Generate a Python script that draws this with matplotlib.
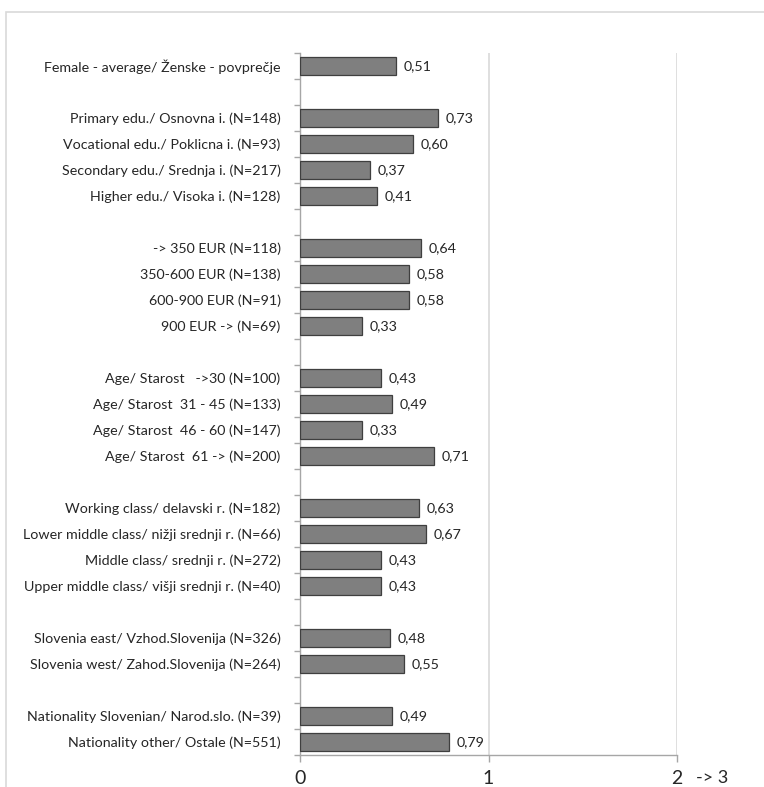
import matplotlib.pyplot as plt
from matplotlib.patches import Rectangle

plt.rcParams['font.family'] = ['Lato', 'DejaVu Sans']

# groups of categories, a blank slot is left between consecutive groups
female_labels = ['Female - average/ Ženske - povprečje']
female_values = [0.51]

edu_labels = ['Primary edu./ Osnovna i. (N=148)',
              'Vocational edu./ Poklicna i. (N=93)',
              'Secondary edu./ Srednja i. (N=217)',
              'Higher edu./ Visoka i. (N=128)']
edu_values = [0.73, 0.60, 0.37, 0.41]

income_labels = ['-> 350 EUR (N=118)', '350-600 EUR (N=138)',
                 '600-900 EUR (N=91)', '900 EUR -> (N=69)']
income_values = [0.64, 0.58, 0.58, 0.33]

age_labels = ['Age/ Starost   ->30 (N=100)', 'Age/ Starost  31 - 45 (N=133)',
              'Age/ Starost  46 - 60 (N=147)', 'Age/ Starost  61 -> (N=200)']
age_values = [0.43, 0.49, 0.33, 0.71]

class_labels = ['Working class/ delavski r. (N=182)',
                'Lower middle class/ nižji srednji r. (N=66)',
                'Middle class/ srednji r. (N=272)',
                'Upper middle class/ višji srednji r. (N=40)']
class_values = [0.63, 0.67, 0.43, 0.43]

region_labels = ['Slovenia east/ Vzhod.Slovenija (N=326)',
                 'Slovenia west/ Zahod.Slovenija (N=264)']
region_values = [0.48, 0.55]

nation_labels = ['Nationality Slovenian/ Narod.slo. (N=39)',
                 'Nationality other/ Ostale (N=551)']
nation_values = [0.49, 0.79]

x_ticks = [0, 1, 2]

groups = [(female_labels, female_values), (edu_labels, edu_values),
          (income_labels, income_values), (age_labels, age_values),
          (class_labels, class_values), (region_labels, region_values),
          (nation_labels, nation_values)]

labels, values, ypos = [], [], []
slot = 0
for g_labels, g_values in groups:
    for lab, val in zip(g_labels, g_values):
        labels.append(lab)
        values.append(val)
        ypos.append(slot)
        slot += 1
    slot += 1
n_slots = slot - 1

fig = plt.figure(figsize=(7.64, 7.87), dpi=100)
ax = fig.add_axes([300 / 764, 1 - 755 / 787, 377 / 764, 702 / 787])

# light frame around the chart area
fig.patches.append(Rectangle((6 / 764, -0.05), 1.1, 1 - 12 / 787 + 0.05,
                             transform=fig.transFigure, fill=False,
                             edgecolor='#d9d9d9', linewidth=1.2))

ax.barh(ypos, values, height=0.72, color='#7f7f7f', edgecolor='#3f3f3f',
        linewidth=0.9, zorder=3)
for y, v in zip(ypos, values):
    ax.text(v + 0.04, y, f'{v:.2f}'.replace('.', ','), va='center',
            ha='left', fontsize=10.3, color='#262626')

ax.set_xlim(0, 2)
ax.set_ylim(n_slots - 0.5, -0.5)

ax.set_yticks(ypos)
ax.set_yticklabels(labels, fontsize=10.3, color='#262626')
ax.set_yticks([i - 0.5 for i in range(n_slots + 1)], minor=True)
ax.tick_params(axis='y', which='major', length=0, pad=14)
ax.tick_params(axis='y', which='minor', length=4, color='#a6a6a6', width=1)

ax.set_xticks(x_ticks)
ax.set_xticklabels([str(t) for t in x_ticks], fontsize=14, color='#262626')
ax.tick_params(axis='x', length=5, color='#a6a6a6', width=1, pad=6)
ax.text(2.1, -0.033, '-> 3', transform=ax.get_xaxis_transform(),
        fontsize=13, ha='left', va='center', color='#262626')

for x in x_ticks[1:]:
    ax.axvline(x, color='#d9d9d9', linewidth=1.2, zorder=1)

for side in ['top', 'right']:
    ax.spines[side].set_visible(False)
for side in ['left', 'bottom']:
    ax.spines[side].set_color('#a6a6a6')
    ax.spines[side].set_linewidth(1)

fig.savefig('out.png', dpi=100)
